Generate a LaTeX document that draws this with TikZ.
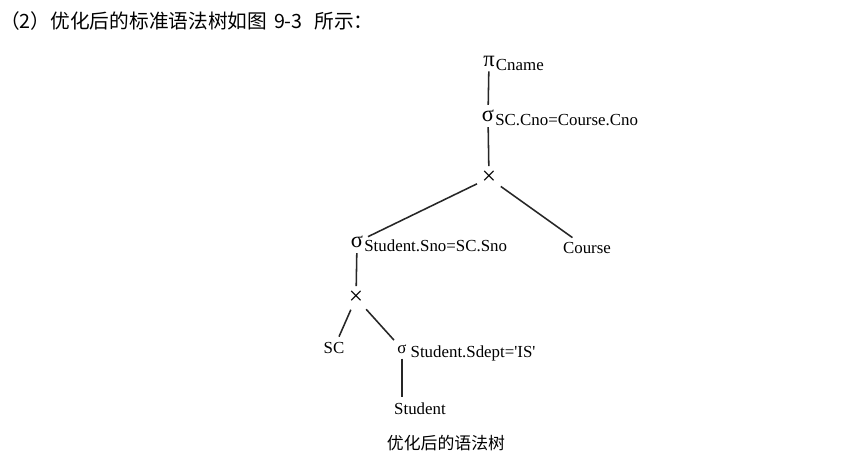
\documentclass[tikz,border=0pt]{standalone}
\usepackage{fontspec}
\setmainfont{Liberation Serif}
\newfontfamily\cjk{Noto Sans CJK SC}
\usetikzlibrary{positioning}

\tikzset{
    op/.style={inner sep=1.5pt, font=\fontsize{16}{18}\selectfont},
    sub/.style={inner sep=0pt, font=\fontsize{12}{14}\selectfont},
    leaf/.style={inner sep=2pt, font=\fontsize{12}{14}\selectfont},
    edge/.style={line width=1.1pt, draw=black!85, shorten <=2pt, shorten >=2pt},
}

\begin{document}
\begin{tikzpicture}[x=0.025cm, y=-0.025cm]
    \useasboundingbox[fill=white] (0,0) rectangle (867,467);

    % heading line
    \node[anchor=west, inner sep=0pt, font=\cjk\fontsize{14}{17}\selectfont] (head) at (0,21) {（2）优化后的标准语法树如图\hspace{0.35em}9-3\hspace{0.6em}所示：};

    % projection and selection on top
    \node[op, label={[sub, label distance=-1pt, yshift=-3pt]east:Cname}] (proj) at (489,61) {π};
    \node[op, label={[sub, label distance=-1pt, yshift=-3pt]east:SC.Cno=Course.Cno}] (selA) at (488,116) {σ};
    \node[op, font=\fontsize{18}{20}\selectfont] (crossA) at (489,178) {×};

    % second level
    \node[op, label={[sub, label distance=-1pt, yshift=-3pt]east:Student.Sno=SC.Sno}] (selB) at (357,242) {σ};
    \node[leaf] (course) at (587,248) {Course};
    \node[op, font=\fontsize{18}{20}\selectfont] (crossB) at (356,298) {×};

    % bottom
    \node[leaf] (sc) at (334,348) {SC};
    \node[op, font=\fontsize{12}{14}\selectfont, label={[sub, label distance=1pt, yshift=-3pt]east:Student.Sdept=\textquotesingle IS\textquotesingle}] (selC) at (402,349) {σ};
    \node[leaf] (student) at (420,409) {Student};

    \node[font=\cjk\fontsize{12}{14}\selectfont] (cap) at (446,443) {优化后的语法树};

    % edges
    \draw[edge] (proj) -- (selA);
    \draw[edge] (selA) -- (crossA);
    \draw[edge] (crossA) -- (selB);
    \draw[edge] (crossA) -- (course);
    \draw[edge] (selB) -- (crossB);
    \draw[edge] (crossB) -- (sc);
    \draw[edge] (crossB) -- (selC);
    \draw[edge] (selC.south) -- (selC.south |- student.north);
\end{tikzpicture}
\end{document}
